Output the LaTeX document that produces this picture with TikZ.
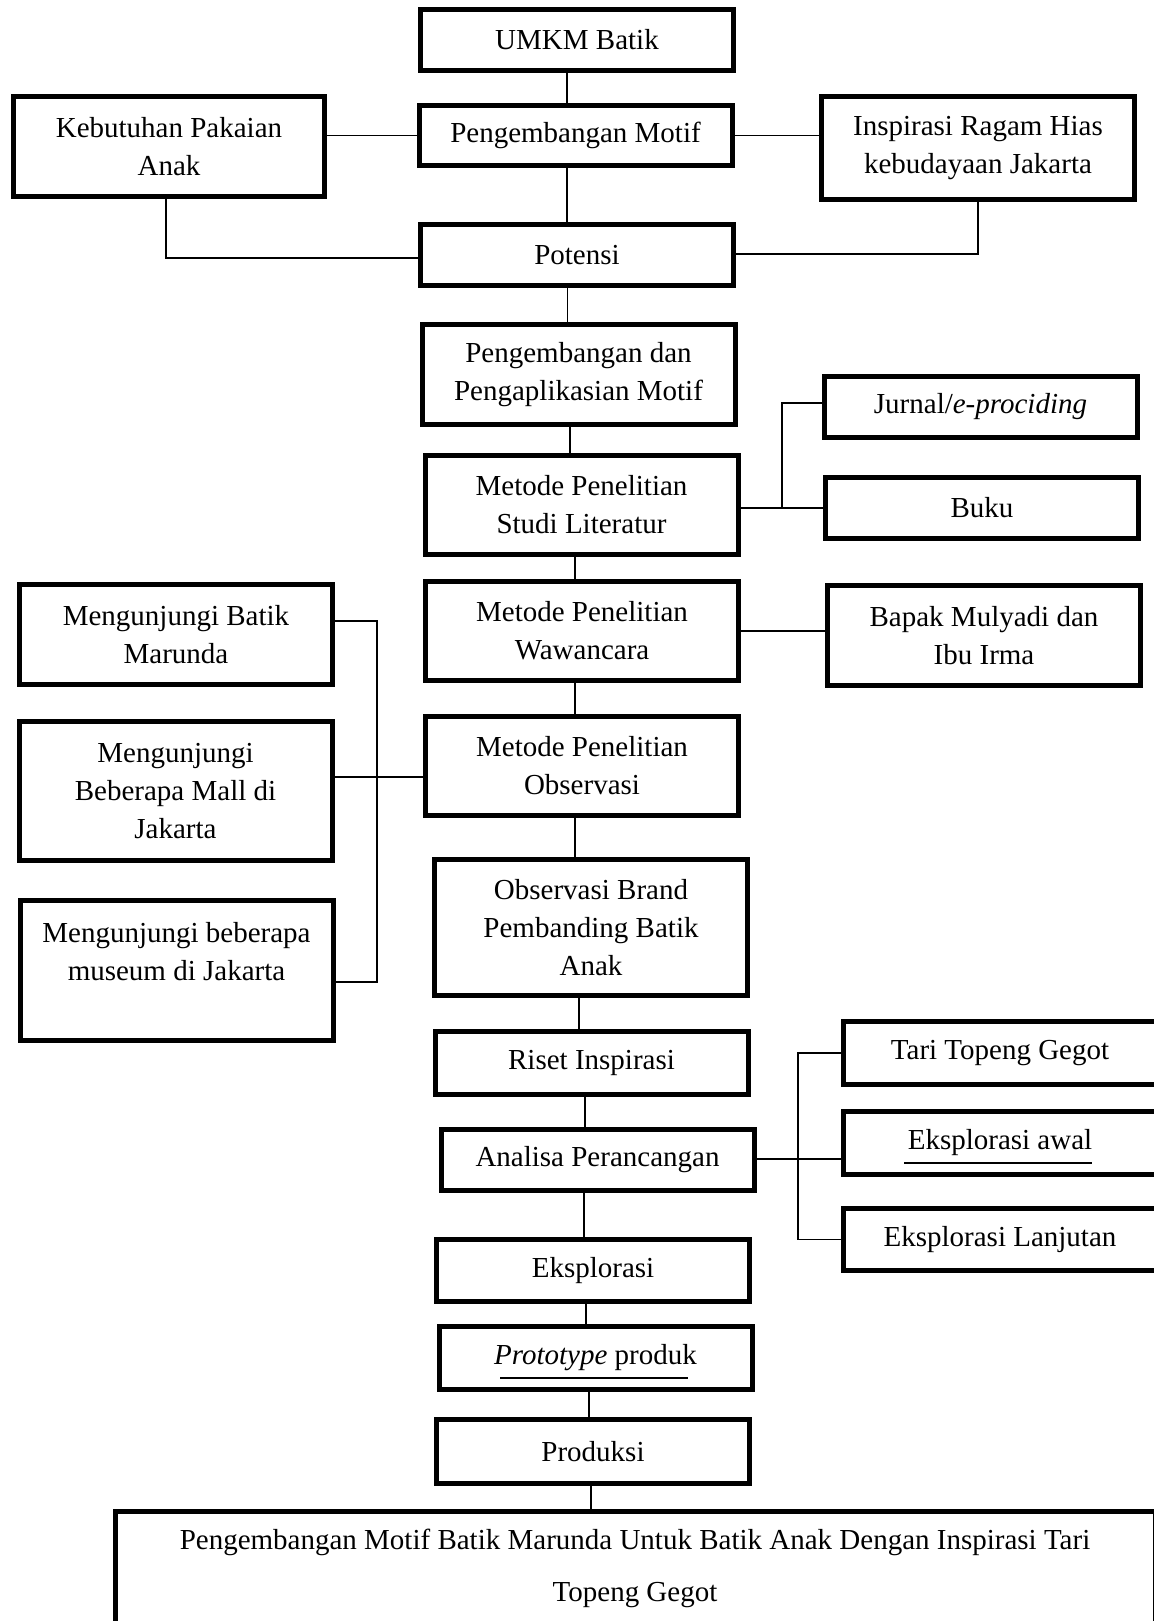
\documentclass[tikz,border=0pt]{standalone}
\usepackage{fontspec}
\setmainfont{Liberation Serif}

\tikzset{
  kotak/.style={draw, line width=2.5pt, align=center, inner sep=0pt,
    minimum width=156.5pt, font=\fontsize{14.5}{19}\selectfont},
  tinggi/.style={minimum height=#1*0.5pt},
  garis/.style={line width=0.8pt},
}

\begin{document}
\begin{tikzpicture}[x=0.5pt, y=-0.5pt]
\useasboundingbox[fill=white] (0,0) rectangle (1154,1621);

% alur utama
\node[kotak, tinggi=61] (umkm) at (577,40) {UMKM Batik};
\node[kotak, tinggi=60] (motif) at (575.5,135.5) {Pengembangan Motif};
\node[kotak, tinggi=61] (potensi) at (577,255) {Potensi};
\node[kotak, tinggi=100] (aplikasi) at (578.5,374.5) {Pengembangan dan\\Pengaplikasian Motif};
\node[kotak, tinggi=99] (studi) at (581.5,505) {Metode Penelitian\\Studi Literatur};
\node[kotak, tinggi=99] (wawancara) at (582,631) {Metode Penelitian\\Wawancara};
\node[kotak, tinggi=99] (observasi) at (582,766) {Metode Penelitian\\Observasi};
\node[kotak, tinggi=136] (brand) at (591,927.5) {Observasi Brand\\Pembanding Batik\\Anak};
\node[kotak, tinggi=63] (riset) at (591.5,1063) {Riset Inspirasi};
\node[kotak, tinggi=61] (analisa) at (597.5,1160) {Analisa Perancangan};
\node[kotak, tinggi=62] (eksplorasi) at (593,1270.5) {Eksplorasi};
\node[kotak, tinggi=63] (prototype) at (595.5,1358) {\textit{Prototype} produk};
\node[kotak, tinggi=64] (produksi) at (593,1451.5) {Produksi};
\node[kotak, tinggi=113, minimum width=520pt, font=\fontsize{14.5}{26}\selectfont]
  (akhir) at (635,1568)
  {Pengembangan Motif Batik Marunda Untuk Batik Anak Dengan Inspirasi Tari\\Topeng Gegot};

% cabang kiri dan kanan
\node[kotak, tinggi=100, minimum width=155.5pt] (kebutuhan) at (169,146.5) {Kebutuhan Pakaian\\Anak};
\node[kotak, tinggi=103] (inspirasi) at (978,148) {Inspirasi Ragam Hias\\kebudayaan Jakarta};
\node[kotak, tinggi=61] (jurnal) at (980.5,407) {Jurnal/\textit{e-prociding}};
\node[kotak, tinggi=61] (buku) at (982,508) {Buku};
\node[kotak, tinggi=100] (mulyadi) at (984,635.5) {Bapak Mulyadi dan\\Ibu Irma};
\node[kotak, tinggi=100] (marunda) at (176,634.5) {Mengunjungi Batik\\Marunda};
\node[kotak, tinggi=139] (mall) at (175.5,791) {Mengunjungi\\Beberapa Mall di\\Jakarta};
\node[kotak, tinggi=140] (museum) at (176.5,970.5) {Mengunjungi beberapa\\museum di Jakarta\\\mbox{}};
\node[kotak, tinggi=63] (tari) at (1000,1053) {Tari Topeng Gegot};
\node[kotak, tinggi=63] (awal) at (1000,1143) {Eksplorasi awal};
\node[kotak, tinggi=62] (lanjutan) at (1000,1239.5) {Eksplorasi Lanjutan};

% garis tegak
\foreach \a/\b/\s/\t in {umkm/motif/-5/-4.25, motif/potensi/-4.25/-5,
    potensi/aplikasi/-4.75/-5.5, aplikasi/studi/-4.25/-5.75,
    studi/wawancara/-3.25/-3.5, wawancara/observasi/-3.5/-3.5,
    observasi/brand/-3.5/-8, brand/riset/-6/-6.25, riset/analisa/-3.25/-6.25,
    analisa/eksplorasi/-6.75/-4.5, eksplorasi/prototype/-3.5/-4.75,
    prototype/produksi/-3.25/-2, produksi/akhir/-1/-22}
  \draw[garis] ([xshift=\s pt]\a.south) -- ([xshift=\t pt]\b.north);

\draw[garis] (motif.west) -- (motif.west -| kebutuhan.east);
\draw[garis] (motif.east) -- (inspirasi.west |- motif.east);
\draw[garis] ([xshift=-1.5pt]kebutuhan.south) |- ([yshift=-1.5pt]potensi.west);
\draw[garis] (inspirasi.south) |- ([yshift=0.5pt]potensi.east);

\coordinate (cabangA) at (782,508);
\draw[garis] (studi.east |- cabangA) -- (buku.west |- cabangA);
\draw[garis] (cabangA) |- ([yshift=2pt]jurnal.west);

\draw[garis] (wawancara.east) -- (mulyadi.west |- wawancara.east);

\coordinate (cabangB) at (377,777);
\draw[garis] (observasi.west |- cabangB) -- (mall.east |- cabangB);
\draw[garis] ([yshift=6.75pt]marunda.east) -| (cabangB) |- ([yshift=-5.75pt]museum.east);

\coordinate (cabangC) at (798,1159);
\draw[garis] (analisa.east |- cabangC) -- (awal.west |- cabangC);
\draw[garis] (tari.west) -| (cabangC) |- (lanjutan.west);

% garis bawah
\draw[line width=0.6pt] (904,1163) -- (1092,1163);
\draw[line width=0.6pt] (500,1378) -- (688,1378);
\end{tikzpicture}
\end{document}
